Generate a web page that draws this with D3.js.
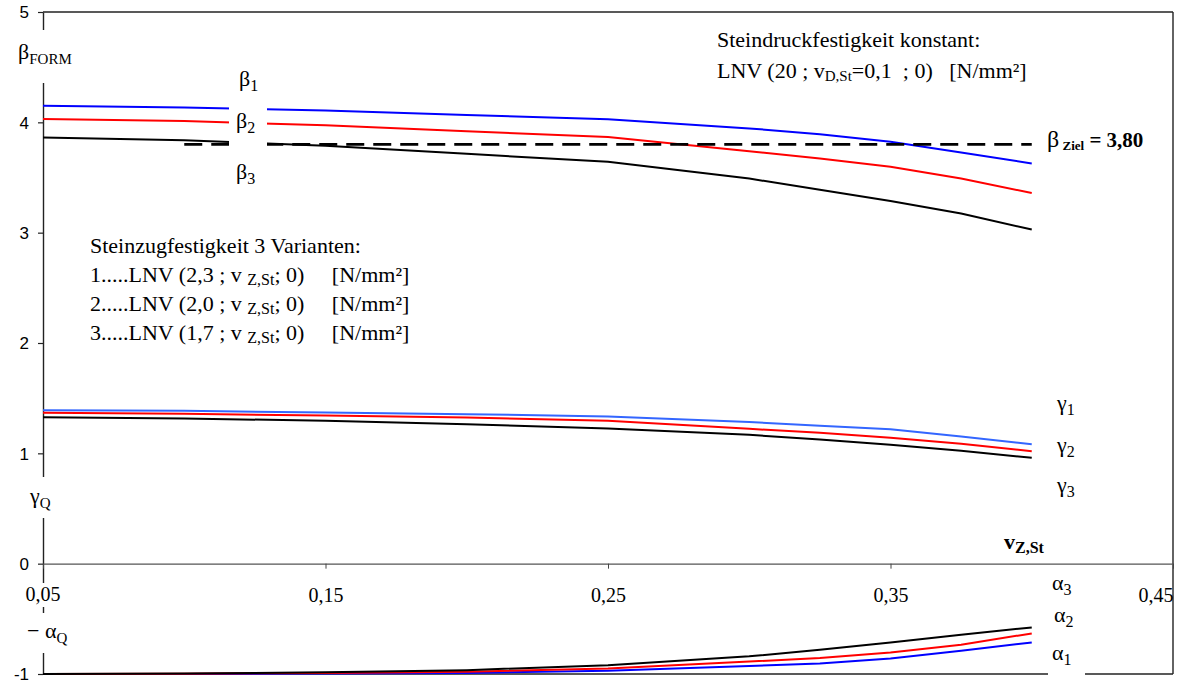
<!DOCTYPE html>
<html><head><meta charset="utf-8">
<script src="https://cdn.jsdelivr.net/npm/d3@7"></script>
<style>
body{margin:0;background:#fff}
svg{display:block;font-family:"Liberation Serif","Times New Roman",serif}
text{white-space:pre}
</style></head><body>
<svg id="chart" width="1182" height="686"></svg>
<script>
// Variationskoeffizient der Steinzugfestigkeit
const vZSt   = [0.05, 0.10, 0.15, 0.20, 0.25, 0.30, 0.325, 0.35, 0.375, 0.40];
// Zuverlässigkeitsindex beta_FORM, Varianten 1..3
const beta1  = [4.150, 4.135, 4.108, 4.066, 4.029, 3.945, 3.893, 3.823, 3.727, 3.627];
const beta2  = [4.030, 4.011, 3.973, 3.919, 3.866, 3.738, 3.672, 3.597, 3.490, 3.360];
const beta3  = [3.863, 3.838, 3.787, 3.715, 3.642, 3.490, 3.390, 3.288, 3.173, 3.028];
// Teilsicherheitsbeiwert gamma_Q
const gamma1 = [1.391, 1.385, 1.370, 1.355, 1.334, 1.283, 1.250, 1.219, 1.152, 1.083];
const gamma2 = [1.367, 1.358, 1.343, 1.325, 1.295, 1.222, 1.186, 1.141, 1.086, 1.019];
const gamma3 = [1.328, 1.316, 1.295, 1.264, 1.225, 1.168, 1.125, 1.077, 1.023, 0.959];
// Wichtungsfaktor -alpha_Q
const alpha1 = [-1.000, -0.999, -0.995, -0.990, -0.970, -0.928, -0.905, -0.860, -0.790, -0.714];
const alpha2 = [-1.000, -0.997, -0.990, -0.980, -0.950, -0.887, -0.856, -0.805, -0.735, -0.632];
const alpha3 = [-1.000, -0.995, -0.985, -0.965, -0.920, -0.840, -0.780, -0.714, -0.644, -0.578];
// Zielwert
const betaZiel = 3.80;
const betaZielRange = [0.10, 0.40];
// Achsenbeschriftung
const yTicks = [-1, 0, 1, 2, 3, 4, 5];
const xTicks = [0.05, 0.15, 0.25, 0.35, 0.45];
const xTickLabels = ["0,05", "0,15", "0,25", "0,35", "0,45"];

const svg = d3.select("#chart");
const x = d3.scaleLinear().domain([0.05, 0.45]).range([43, 1173]);
const y = d3.scaleLinear().domain([-1, 5]).range([674, 12]);
const line = d3.line().x(d => x(d[0])).y(d => y(d[1]));
const pts = vals => vZSt.map((v, i) => [v, vals[i]]);

// Rahmen oben / rechts / unten
const frame = svg.append("g").attr("stroke", "#222").attr("stroke-width", 1.4).attr("fill", "none");
frame.append("line").attr("x1", x(0.05)).attr("x2", x(0.45)).attr("y1", y(5)).attr("y2", y(5));
frame.append("line").attr("x1", x(0.45)).attr("x2", x(0.45)).attr("y1", y(5)).attr("y2", y(-1));
frame.append("line").attr("x1", x(0.05)).attr("x2", x(0.45)).attr("y1", y(-1)).attr("y2", y(-1));

// y-Achse
const yAxis = svg.append("g").attr("transform", `translate(${x(0.05)},0)`)
  .call(d3.axisLeft(y).tickValues(yTicks).tickSize(5).tickPadding(9).tickSizeOuter(0)
    .tickFormat(d => d < 0 ? "-" + Math.abs(d) : String(d)));
yAxis.select(".domain").attr("stroke", "#222").attr("stroke-width", 1.4);
yAxis.selectAll(".tick line").attr("stroke", "#222").attr("stroke-width", 1.2);
yAxis.selectAll(".tick text").attr("font-family", "'Liberation Sans', Arial, sans-serif")
  .attr("font-size", 17).attr("fill", "#000").attr("dy", "0.34em");

// x-Achse bei 0
const xAxis = svg.append("g").attr("transform", `translate(0,${y(0)})`)
  .call(d3.axisBottom(x).tickValues(xTicks).tickSize(5).tickPadding(19).tickSizeOuter(0)
    .tickFormat((d, i) => xTickLabels[i]));
xAxis.select(".domain").attr("stroke", "#555").attr("stroke-width", 1.3);
xAxis.selectAll(".tick line").attr("stroke", "#444").attr("stroke-width", 1);
xAxis.selectAll(".tick text").attr("font-family", "'Liberation Serif', 'Times New Roman', serif")
  .attr("font-size", 20).attr("fill", "#000");
xAxis.selectAll(".tick text").filter(d => d === 0.45).attr("text-anchor", "end");

// Kurven
const series = [
  [beta1, "#0000ff"], [beta2, "#ff0000"], [beta3, "#000000"],
  [gamma1, "#3366ff"], [gamma2, "#ff0000"], [gamma3, "#000000"],
  [alpha1, "#0000ff"], [alpha2, "#ff0000"], [alpha3, "#000000"]
];
svg.append("g").attr("fill", "none").attr("stroke-width", 2)
  .selectAll("path").data(series).join("path")
  .attr("stroke", d => d[1]).attr("d", d => line(pts(d[0])));

// Zielwert beta_Ziel
svg.append("line")
  .attr("x1", x(betaZielRange[0])).attr("x2", x(betaZielRange[1]))
  .attr("y1", y(betaZiel)).attr("y2", y(betaZiel))
  .attr("stroke", "#000").attr("stroke-width", 2.6).attr("stroke-dasharray", "18,9");

// weiße Hinterlegung der Textfelder
const boxes = [
  [36, 30, 14, 53],     // beta_FORM
  [229, 98, 38, 52],    // beta_1 / beta_2
  [36, 477, 14, 41],    // gamma_Q
  [24, 583, 38, 24],    // 0,05
  [36, 613, 14, 40],    // -alpha_Q
  [1048, 668, 37, 12]   // alpha_1
];
svg.append("g").selectAll("rect").data(boxes).join("rect")
  .attr("x", d => d[0]).attr("y", d => d[1]).attr("width", d => d[2]).attr("height", d => d[3])
  .attr("fill", "#fff");
// Beschriftung 0,05 über der Hinterlegung
svg.append("text").attr("x", x(0.05)).attr("y", 601).attr("text-anchor", "middle")
  .attr("font-size", 20).text(xTickLabels[0]);

// Text mit tiefgestellten Teilen
function rich(px, py, parts, opts = {}) {
  const t = svg.append("text").attr("x", px).attr("y", py)
    .attr("font-size", opts.size || 22).attr("font-weight", opts.bold ? "bold" : null);
  let shift = 0;
  parts.forEach(p => {
    const target = p.sub ? (p.drop || 5) : 0;
    const s = t.append("tspan").text(p.t).attr("dy", target - shift);
    if (p.size) s.attr("font-size", p.size);
    if (p.bold !== undefined) s.attr("font-weight", p.bold ? "bold" : "normal");
    shift = target;
  });
  return t;
}

rich(18, 59, [{t: "β"}, {t: "FORM", sub: true, size: 15, drop: 5}]);
rich(239, 86, [{t: "β"}, {t: "1", sub: true, size: 16}]);
rich(236, 128, [{t: "β"}, {t: "2", sub: true, size: 16}]);
rich(236, 179, [{t: "β"}, {t: "3", sub: true, size: 16}]);
rich(30, 503, [{t: "γ"}, {t: "Q", sub: true, size: 15}]);
rich(27, 638, [{t: "− α"}, {t: "Q", sub: true, size: 15}]);

rich(1057, 410, [{t: "γ"}, {t: "1", sub: true, size: 16}]);
rich(1057, 452, [{t: "γ"}, {t: "2", sub: true, size: 16}]);
rich(1057, 492, [{t: "γ"}, {t: "3", sub: true, size: 16}]);
rich(1052, 590, [{t: "α"}, {t: "3", sub: true, size: 16}]);
rich(1054, 622, [{t: "α"}, {t: "2", sub: true, size: 16}]);
rich(1052, 660, [{t: "α"}, {t: "1", sub: true, size: 16}]);

rich(1004, 549, [{t: "v"}, {t: "Z,St", sub: true, size: 16, drop: 4}], {bold: true});
rich(1047, 147, [{t: "β", bold: false, size: 24}, {t: " Ziel", sub: true, size: 13, bold: true, drop: 3},
                 {t: " = 3,80", size: 21}], {bold: true});

rich(717, 47, [{t: "Steindruckfestigkeit konstant:"}]);
rich(717, 78, [{t: "LNV (20 ; v"}, {t: "D,St", sub: true, size: 15, drop: 3}, {t: "=0,1  ; 0)   [N/mm²]"}]);

rich(90, 253, [{t: "Steinzugfestigkeit 3 Varianten:"}]);
rich(90, 282, [{t: "1.....LNV (2,3 ; v "}, {t: "Z,St", sub: true, size: 16, drop: 3}, {t: "; 0)     [N/mm²]"}]);
rich(90, 311, [{t: "2.....LNV (2,0 ; v "}, {t: "Z,St", sub: true, size: 16, drop: 3}, {t: "; 0)     [N/mm²]"}]);
rich(90, 340, [{t: "3.....LNV (1,7 ; v "}, {t: "Z,St", sub: true, size: 16, drop: 3}, {t: "; 0)     [N/mm²]"}]);
</script></body></html>
